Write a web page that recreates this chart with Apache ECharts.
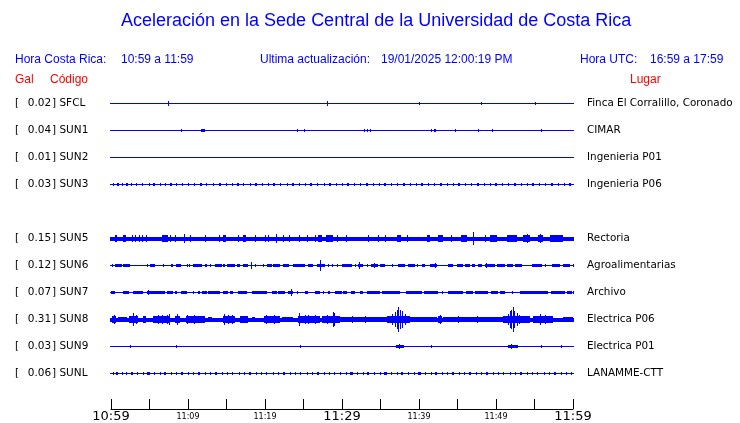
<!DOCTYPE html>
<html><head><meta charset="utf-8">
<script src="https://cdn.jsdelivr.net/npm/echarts@6/dist/echarts.min.js"></script>
<style>html,body{margin:0;padding:0;background:#fff}#c{width:740px;height:423px}</style>
</head><body><div id="c"></div>
<script>
// ---- data ----
const codes = ['SFCL','SUN1','SUN2','SUN3',null,'SUN5','SUN6','SUN7','SUN8','SUN9','SUNL'];
const peakGal = [0.02,0.04,0.01,0.03,null,0.15,0.12,0.07,0.31,0.03,0.06];
const places = ['Finca El Corralillo, Coronado','CIMAR','Ingenieria P01','Ingenieria P06',null,'Rectoria','Agroalimentarias','Archivo','Electrica P06','Electrica P01','LANAMME-CTT'];
const tickLabels = ['10:59','11:09','11:19','11:29','11:39','11:49','11:59'];
const bigTickLabels = ['10:59','11:29','11:59'];
// baseline half-amplitude of each trace
const baseAmp = [0,0,0,0,null,1.5,0,0,1.5,0,0];
// wave bursts per station: [start minute, end minute, half amplitude]
const SFCL = [[7.4,7.4,2],[28.0,28.0,2],[40.0,40.0,1],[48.0,48.0,1],[55.1,55.1,1]];
const SUN1 = [[9.1,9.1,1],[11.7,12.2,1],[24.2,24.2,1],[25.0,25.0,1],[32.9,32.9,1],[33.3,33.3,1],[33.7,33.7,1],[41.6,41.6,1],[41.9,42.2,1],[44.7,44.7,1],[47.7,47.7,1],[49.5,49.5,1],[55.8,55.8,1]];
const SUN2 = [];
const SUN3 = [[0.3,0.3,1],[0.8,1.0,1],[1.4,1.4,1],[1.9,2.2,1],[2.6,2.6,1],[3.3,3.3,1],[4.0,4.2,1],[4.9,4.9,1],[5.5,5.7,1],[6.3,6.3,1],[7.0,7.0,1],[7.6,7.9,1],[8.5,8.5,1],[9.2,9.4,1],[10.0,10.0,1],[10.8,10.8,1],[11.5,11.8,1],[12.4,12.4,1],[13.2,13.2,1],[14.0,14.3,1],[14.9,14.9,1],[15.7,15.7,1],[16.4,16.6,1],[17.2,17.2,1],[18.0,18.0,1],[18.7,19.0,1],[19.6,19.6,1],[20.4,20.4,1],[21.1,21.3,1],[22.0,22.0,1],[22.8,22.8,1],[23.5,23.8,1],[24.4,24.4,1],[25.2,25.2,1],[25.9,26.1,1],[26.8,26.8,1],[27.6,27.6,1],[28.3,28.6,1],[29.2,29.2,1],[30.0,30.0,1],[30.7,30.9,1],[31.6,31.6,1],[32.4,32.4,1],[33.1,33.4,1],[34.0,34.0,1],[34.8,34.8,1],[35.5,35.7,1],[36.4,36.4,1],[37.2,37.2,1],[37.9,38.2,1],[38.8,38.8,1],[39.6,39.6,1],[40.3,40.5,1],[41.2,41.2,1],[42.0,42.0,1],[42.7,43.0,1],[43.6,43.6,1],[44.4,44.4,1],[45.1,45.3,1],[46.0,46.0,1],[46.8,46.8,1],[47.5,47.8,1],[48.4,48.4,1],[49.2,49.2,1],[49.9,50.1,1],[50.8,50.8,1],[51.6,51.6,1],[52.3,52.6,1],[53.2,53.2,1],[54.0,54.0,1],[54.7,54.9,1],[55.6,55.6,1],[56.4,56.4,1],[57.1,57.4,1],[58.0,58.0,1],[58.8,58.8,1],[59.5,59.7,1]];
const SUN5 = [[0.5,0.8,3],[1.6,1.9,3],[2.7,2.7,3],[3.1,3.1,3],[3.6,3.6,3],[4.0,4.0,3],[4.5,4.5,3],[6.6,7.4,3],[7.7,7.7,3],[8.3,8.3,3],[9.5,9.5,4],[10.3,10.3,3],[12.2,12.2,3],[14.0,14.0,3],[14.5,14.9,3],[16.5,16.5,3],[17.1,17.5,3],[18.7,18.7,3],[20.0,20.0,3],[20.4,20.4,3],[21.4,21.6,4],[22.3,22.3,3],[23.1,23.1,3],[24.4,24.6,3],[25.4,25.4,3],[26.5,26.5,3],[26.9,27.4,3],[27.9,28.8,3],[29.3,29.3,3],[30.5,30.5,3],[33.4,33.4,3],[34.7,34.7,3],[35.6,35.6,3],[37.1,37.7,3],[38.4,38.4,3],[41.0,41.4,3],[42.5,43.1,3],[44.2,44.2,3],[45.5,46.2,3],[47.0,47.0,6],[48.6,48.6,3],[49.2,50.1,3],[51.4,52.7,3],[53.5,54.4,3],[54.0,54.0,4],[55.5,56.1,3],[55.7,55.7,4],[57.0,58.7,3]];
const SUN6 = [[0.09,0.30,1],[0.52,1.39,1],[1.60,2.47,1],[4.63,4.85,1],[5.06,5.71,1],[6.80,6.80,1],[7.79,8.10,1],[8.44,9.05,1],[9.83,9.83,1],[10.17,10.17,1],[10.61,11.77,1],[12.21,12.42,1],[12.86,12.86,1],[13.51,14.37,1],[14.59,14.85,1],[15.02,16.10,1],[16.32,16.75,1],[17.10,17.79,1],[18.14,18.14,3],[18.70,18.70,1],[19.70,19.70,1],[20.22,20.87,1],[21.08,21.95,1],[22.29,23.16,1],[23.59,25.19,1],[25.63,26.28,1],[26.71,27.79,1],[27.19,27.19,5],[28.22,28.22,1],[28.66,28.66,1],[29.31,29.31,1],[29.96,31.26,1],[31.69,31.69,1],[32.12,32.77,1],[32.25,32.25,3],[33.20,33.20,1],[33.72,34.72,1],[34.16,34.16,2],[34.94,35.58,1],[36.45,36.45,1],[37.32,38.18,1],[38.61,39.48,1],[39.70,39.70,1],[40.35,40.78,1],[41.43,42.29,1],[42.08,42.08,2],[43.81,44.46,1],[44.89,45.76,1],[45.97,46.62,1],[46.84,47.27,1],[47.71,48.14,1],[48.57,49.87,1],[48.66,48.66,2],[50.09,51.17,1],[51.39,52.25,1],[52.47,53.33,1],[54.63,55.93,1],[56.36,56.36,1],[57.23,58.31,1],[58.74,59.61,1],[60.0,60.0,1]];
const SUN7 = [[0.0,0.52,1],[1.60,2.38,1],[2.90,4.20,1],[4.63,7.01,1],[4.85,4.85,2],[7.23,8.01,1],[8.31,8.53,1],[9.09,9.91,1],[10.61,10.61,1],[11.34,11.56,1],[11.77,12.42,1],[12.64,14.16,1],[14.59,15.24,1],[15.45,15.80,1],[16.54,17.62,1],[18.27,20.22,1],[20.87,21.52,1],[21.65,22.60,1],[23.03,23.68,1],[23.33,23.33,3],[24.11,24.11,1],[25.19,25.63,1],[26.49,27.14,1],[27.58,27.58,1],[28.22,28.44,1],[29.09,29.96,1],[30.17,30.61,1],[31.13,31.69,1],[32.34,32.77,1],[33.20,34.94,1],[35.15,35.80,1],[35.89,37.53,1],[38.31,40.35,1],[40.65,42.51,1],[42.94,43.16,1],[43.81,45.76,1],[46.10,47.06,1],[47.27,49.00,1],[49.31,50.30,1],[50.52,51.17,1],[52.03,52.25,1],[53.12,56.80,1],[57.10,58.96,1],[59.26,59.83,1],[60.0,60.0,1]];
const SUN8 = [[0.1,0.6,3],[0.39,0.39,4],[0.95,2.03,2],[2.38,3.55,3],[2.90,2.90,6],[3.2,3.2,4],[4.11,4.55,3],[5.41,7.66,3],[6.15,6.15,4],[6.6,6.6,4],[7.23,7.23,4],[7.53,7.53,5],[8.31,8.96,3],[8.53,8.53,5],[9.74,12.21,3],[9.91,9.91,4],[10.8,10.8,4],[12.64,13.07,2],[14.50,16.10,3],[14.68,14.68,5],[15.2,15.2,4],[15.67,15.67,4],[16.75,17.84,3],[18.27,18.70,2],[19.87,21.95,3],[20.09,20.09,4],[21.2,21.2,4],[22.16,23.68,2],[24.33,27.14,3],[24.46,24.46,6],[25.2,25.2,4],[25.63,25.63,4],[26.5,26.5,4],[27.36,29.74,3],[28.0,28.0,4],[28.79,28.79,7],[29.0,29.0,6],[29.74,35.8,2],[31.3,31.3,3],[33.0,33.0,3],[35.8,38.83,3],[36.5,36.5,5],[36.9,36.9,7],[37.1,37.1,9],[37.32,37.32,12],[37.5,37.5,9],[37.75,37.75,8],[38.2,38.2,5],[38.83,42.30,2],[42.51,42.94,3],[42.7,42.7,4],[43.16,50.95,2],[45.0,45.0,3],[47.5,47.5,3],[50.95,53.33,3],[51.5,51.5,5],[51.82,51.82,8],[52.0,52.0,9],[52.21,52.21,12],[52.4,52.4,8],[52.68,52.68,6],[53.0,53.0,4],[53.33,54.42,3],[54.85,57.45,3],[55.71,55.71,5],[56.3,56.3,4],[58.74,60.0,2]];
const SUN9 = [[2.5,2.5,1],[8.4,8.4,1],[24.6,24.6,1],[37.0,38.0,1],[37.4,37.4,2],[41.5,41.5,1],[51.5,52.8,1],[52.0,52.0,2],[55.9,55.9,1],[58.5,58.5,1]];
const SUNL = [[0.2,0.2,1],[0.7,0.9,1],[1.4,1.4,1],[2.0,2.0,1],[2.6,2.8,1],[3.4,3.4,1],[4.1,4.1,1],[4.7,5.0,1],[5.6,5.6,1],[6.3,6.3,1],[6.9,7.1,1],[7.8,7.8,1],[8.5,8.5,1],[9.1,9.4,1],[10.0,10.0,1],[10.7,10.7,1],[11.3,11.5,1],[12.2,12.2,1],[12.9,12.9,1],[13.5,13.8,1],[14.4,14.4,1],[15.1,15.1,1],[15.7,15.9,1],[16.6,16.6,1],[17.3,17.3,1],[17.9,18.2,1],[18.8,18.8,1],[19.5,19.5,1],[20.1,20.3,1],[21.0,21.0,1],[21.7,21.7,1],[22.3,22.6,1],[23.2,23.2,1],[23.9,23.9,1],[24.5,24.7,1],[25.4,25.4,1],[26.1,26.1,1],[26.7,27.0,1],[27.6,27.6,1],[28.3,28.3,1],[28.9,29.1,1],[29.8,29.8,1],[30.5,30.5,1],[31.1,31.4,1],[32.0,32.0,1],[32.7,32.7,1],[33.3,33.5,1],[34.2,34.2,1],[34.9,34.9,1],[35.5,35.8,1],[36.4,36.4,1],[37.1,37.1,1],[37.7,37.9,1],[38.6,38.6,1],[39.3,39.3,1],[39.9,40.2,1],[40.8,40.8,1],[41.5,41.5,1],[42.1,42.3,1],[43.0,43.0,1],[43.7,43.7,1],[44.3,44.6,1],[45.2,45.2,1],[45.9,45.9,1],[46.5,46.7,1],[47.4,47.4,1],[48.1,48.1,1],[48.7,49.0,1],[49.6,49.6,1],[50.3,50.3,1],[50.9,51.1,1],[51.8,51.8,1],[52.5,52.5,1],[53.1,53.4,1],[54.0,54.0,1],[54.7,54.7,1],[55.3,55.5,1],[56.2,56.2,1],[56.9,56.9,1],[57.5,57.8,1],[58.4,58.4,1],[59.1,59.1,1],[59.7,59.9,1]];
const traces = [SFCL,SUN1,SUN2,SUN3,null,SUN5,SUN6,SUN7,SUN8,SUN9,SUNL];

// ---- drawing ----
const BLUE = '#0000ff', RED = '#ff0000';
const T_MIN = 0, T_MAX = 60;
const series = [];
traces.forEach((tr, row) => {
  if (!tr) return;
  const data = [[T_MIN, T_MAX, row, baseAmp[row]]].concat(tr.map(d => [d[0], d[1], row, d[2]]));
  series.push({
    type: 'custom', name: codes[row], xAxisIndex: 0, yAxisIndex: 0, clip: false,
    silent: true, animation: false,
    renderItem: function (params, api) {
      const a = api.coord([api.value(0), api.value(2)]);
      const b = api.coord([api.value(1), api.value(2)]);
      let x0 = Math.round(a[0]), x1 = Math.round(b[0]);
      if (x1 - x0 < 1) { x0 = Math.round((a[0] + b[0]) / 2); x1 = x0 + 1; }
      if (api.value(0) === T_MIN && api.value(1) === T_MAX) { x0 -= 1; x1 += 1; }
      const cy = Math.round(a[1]);
      const hTot = Math.round(2 * api.value(3) + 1);
      const top = cy - Math.floor((hTot - 1) / 2);
      return { type: 'rect', shape: { x: x0, y: top, width: x1 - x0, height: hTot }, style: { fill: BLUE } };
    },
    encode: { x: [0, 1], y: 2 },
    data: data
  });
});

function isRow(v) { const i = Math.round(v); return Math.abs(v - i) < 1e-6 && i >= 0 && i < codes.length && codes[i]; }

const chart = echarts.init(document.getElementById('c'), null, { renderer: 'canvas' });
const LABEL_FONT = 'DejaVu Sans';
const HEAD = '12px "Liberation Sans"';
chart.setOption({
  backgroundColor: '#fff',
  animation: false,
  title: {
    text: 'Aceleración en la Sede Central de la Universidad de Costa Rica',
    left: 121, top: 12, padding: 0,
    textStyle: { color: BLUE, fontFamily: 'Liberation Sans', fontSize: 18, fontWeight: 'normal' }
  },
  graphic: [
    { type: 'text', left: 15, top: 54, style: { text: 'Hora Costa Rica:', fill: BLUE, font: HEAD } },
    { type: 'text', left: 121, top: 54, style: { text: tickLabels[0] + ' a ' + tickLabels[6], fill: BLUE, font: HEAD } },
    { type: 'text', left: 260, top: 54, style: { text: 'Ultima actualización:', fill: BLUE, font: HEAD } },
    { type: 'text', left: 381, top: 54, style: { text: '19/01/2025 12:00:19 PM', fill: BLUE, font: HEAD } },
    { type: 'text', left: 580, top: 54, style: { text: 'Hora UTC:', fill: BLUE, font: HEAD } },
    { type: 'text', left: 650, top: 54, style: { text: '16:59 a 17:59', fill: BLUE, font: HEAD } },
    { type: 'text', left: 15, top: 74, style: { text: 'Gal', fill: RED, font: HEAD } },
    { type: 'text', left: 50, top: 74, style: { text: 'Código', fill: RED, font: HEAD } },
    { type: 'text', left: 630, top: 74, style: { text: 'Lugar', fill: RED, font: HEAD } }
  ],
  grid: { left: 111, right: 167, top: 76, bottom: 14, containLabel: false, outerBoundsMode: 'none' },
  xAxis: {
    type: 'value', min: T_MIN, max: T_MAX, interval: 5,
    axisLine: { onZero: false, lineStyle: { color: '#000', width: 1 } },
    axisTick: { inside: true, length: 10, lineStyle: { color: '#000' } },
    splitLine: { show: false },
    axisLabel: {
      margin: 1, showMinLabel: true, showMaxLabel: true, hideOverlap: false,
      formatter: function (v) {
        if (v % 10 !== 0) return '';
        const s = tickLabels[v / 10];
        return bigTickLabels.indexOf(s) >= 0 ? '{big|' + s + '}' : '{small|' + s + '}';
      },
      rich: {
        big: { fontFamily: LABEL_FONT, fontSize: 13, color: '#000', lineHeight: 14, verticalAlign: 'middle' },
        small: { fontFamily: LABEL_FONT, fontSize: 8, color: '#000', lineHeight: 14, verticalAlign: 'middle' }
      }
    }
  },
  yAxis: [{
    type: 'value', inverse: true, min: -1, max: 11.3333, interval: 1, position: 'left',
    axisLine: { show: false }, axisTick: { show: false }, splitLine: { show: false },
    axisLabel: {
      align: 'left', margin: 96, showMinLabel: true, showMaxLabel: true,
      formatter: function (v) {
        if (!isRow(v)) return '';
        const i = Math.round(v);
        return '{a|[}{v|' + peakGal[i].toFixed(2) + '}{c|] ' + codes[i] + '}';
      },
      rich: {
        a: { width: 12, fontFamily: LABEL_FONT, fontSize: 10.5, color: '#000' },
        v: { width: 25, align: 'right', fontFamily: LABEL_FONT, fontSize: 10.5, color: '#000' },
        c: { fontFamily: LABEL_FONT, fontSize: 10.5, color: '#000' }
      }
    }
  }, {
    type: 'value', inverse: true, min: -1, max: 11.3333, interval: 1, position: 'right',
    axisLine: { show: false }, axisTick: { show: false }, splitLine: { show: false },
    axisLabel: {
      margin: 14, fontFamily: LABEL_FONT, fontSize: 10.4, color: '#000',
      formatter: function (v) { return isRow(v) ? places[Math.round(v)] : ''; }
    }
  }],
  series: series
});
</script></body></html>
